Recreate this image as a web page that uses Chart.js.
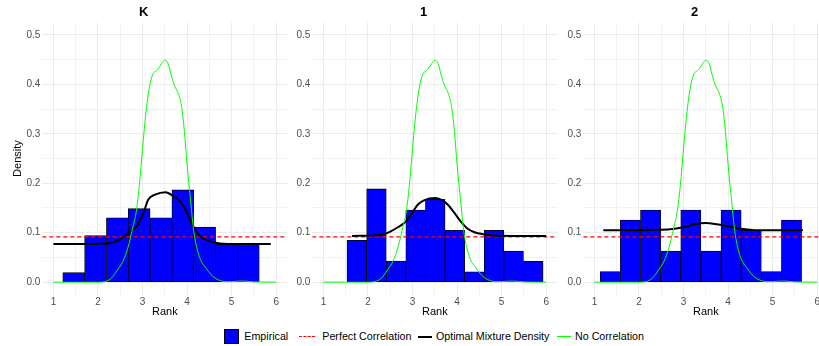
<!DOCTYPE html>
<html>
<head>
<meta charset="utf-8">
<script src="https://cdn.jsdelivr.net/npm/chart.js@4.4.1/dist/chart.umd.min.js"></script>
<style>
  body { margin: 0; width: 819px; height: 346px; overflow: hidden; background: #fff; position: relative;
         font-family: "Liberation Sans", Arial, sans-serif; }
  .panel { position: absolute; top: 0; height: 325px; }
  #legend { position: absolute; left: 0; top: 328px; width: 819px; height: 17px;
            font-size: 10.7px; color: #000; white-space: nowrap; }
  .key { position: absolute; top: 0; height: 17px; }
  .lab { position: absolute; top: 2px; line-height: 13px; }
  .sq { position: absolute; top: 1px; width: 13px; height: 13px; background: #0000ff; border: 1px solid #000; }
  .ln { position: absolute; top: 8px; }
</style>
</head>
<body>
<div class="panel" style="left:0;width:290px"><canvas id="c0"></canvas></div>
<div class="panel" style="left:290px;width:270px"><canvas id="c1"></canvas></div>
<div class="panel" style="left:561px;width:270px"><canvas id="c2"></canvas></div>
<div id="legend"></div>
<script>
// panels
const panelTitles = ['K', '1', '2'];

// axis ticks
const xTickValues = [1, 1.5, 2, 2.5, 3, 3.5, 4, 4.5, 5, 5.5, 6];
const xTickLabels = ['1', '', '2', '', '3', '', '4', '', '5', '', '6'];
const yTickValues = [0, 0.05, 0.1, 0.15, 0.2, 0.25, 0.3, 0.35, 0.4, 0.45, 0.5];
const yTickLabels = ['0.0', '', '0.1', '', '0.2', '', '0.3', '', '0.4', '', '0.5'];

// histogram bins (edges) and densities
const binEdgesK = [1.21, 1.70, 2.19, 2.68, 3.17, 3.66, 4.15, 4.64, 5.13, 5.62];
const densityK  = [0.0195, 0.094, 0.130, 0.149, 0.130, 0.1865, 0.1115, 0.077, 0.077];
const binEdges1 = [1.53, 1.97, 2.41, 2.85, 3.29, 3.73, 4.17, 4.61, 5.05, 5.49, 5.93];
const density1  = [0.0845, 0.1885, 0.0426, 0.146, 0.1676, 0.105, 0.021, 0.105, 0.063, 0.042];
const binEdges2 = [1.13, 1.582, 2.034, 2.486, 2.938, 3.39, 3.842, 4.294, 4.746, 5.198, 5.65];
const density2  = [0.0216, 0.1257, 0.146, 0.063, 0.146, 0.063, 0.146, 0.105, 0.0216, 0.1257];

// perfect correlation (uniform density)
const perfectCorrelation = 0.0915;

// no correlation density (same in every panel)
const noCorrX = [1.0, 1.5, 2.0, 2.15, 2.3, 2.44, 2.56, 2.67, 2.78, 2.86, 2.93, 3.0, 3.08, 3.16, 3.23, 3.34, 3.43,
                 3.5, 3.58, 3.64, 3.72, 3.81, 3.88, 3.94, 4.0, 4.08, 4.15, 4.24, 4.32, 4.43, 4.54, 4.63, 4.75,
                 4.85, 5.0, 5.15, 5.3, 5.5, 6.0];
const noCorrY = [0, 0, 0, 0.001, 0.008, 0.025, 0.042, 0.069, 0.11, 0.143, 0.197, 0.27, 0.346, 0.397, 0.42, 0.43, 0.442,
                 0.449, 0.441, 0.42, 0.397, 0.38, 0.353, 0.305, 0.238, 0.164, 0.103, 0.062, 0.042, 0.028, 0.015, 0.008, 0.003,
                 0.001, 0.001, 0.002, 0.002, 0.0005, 0];

// optimal mixture density
const mixXK = [1.0, 2.2, 2.5, 2.68, 2.87, 3.02, 3.13, 3.28, 3.52, 3.69, 3.84, 3.96, 4.07, 4.18, 4.29, 4.48, 4.67, 5.04, 5.88];
const mixYK = [0.077, 0.078, 0.087, 0.099, 0.113, 0.14, 0.167, 0.177, 0.182, 0.174, 0.164, 0.147, 0.126, 0.106, 0.093, 0.084, 0.079, 0.077, 0.077];
const mixX1 = [1.64, 2.14, 2.37, 2.52, 2.67, 2.82, 2.97, 3.12, 3.27, 3.5, 3.64, 3.79, 3.94, 4.09, 4.24, 4.39, 4.58, 4.9, 6.0];
const mixY1 = [0.0935, 0.0946, 0.097, 0.103, 0.111, 0.12, 0.137, 0.157, 0.166, 0.170, 0.167, 0.157, 0.14, 0.122, 0.108, 0.101, 0.097, 0.094, 0.0935];
const mixX2 = [1.2, 2.5, 2.8, 3.0, 3.25, 3.5, 3.75, 4.0, 4.3, 4.6, 5.68];
const mixY2 = [0.105, 0.106, 0.108, 0.111, 0.117, 0.1195, 0.117, 0.113, 0.108, 0.105, 0.105];

const xLimits = [0.75, 6.25];
const yLimits = [-0.025, 0.525];

const legendLabels = ['Empirical', 'Perfect Correlation', 'Optimal Mixture Density', 'No Correlation'];

Chart.defaults.font.family = '"Liberation Sans", Arial, sans-serif';
Chart.defaults.color = '#4d4d4d';

function pts(xs, ys) {
    return xs.map((x, i) => ({x: x, y: ys[i]}));
}

function makePanel(id, title, edges, dens, mixX, mixY, showYTitle, yWidth) {
    const bars = dens.map((d, i) => ({x: (edges[i] + edges[i + 1]) / 2, y: d}));
    new Chart(document.getElementById(id), {
        type: 'bar',
        data: {
            datasets: [{
                type: 'line',
                label: legendLabels[3],
                data: pts(noCorrX, noCorrY),
                borderColor: '#00ff00',
                borderWidth: 1,
                pointRadius: 0,
                cubicInterpolationMode: 'monotone',
                order: 0
            }, {
                type: 'line',
                label: legendLabels[2],
                data: pts(mixX, mixY),
                borderColor: '#000000',
                borderWidth: 2,
                pointRadius: 0,
                cubicInterpolationMode: 'monotone',
                order: 1
            }, {
                type: 'line',
                label: legendLabels[1],
                data: pts(xLimits, [perfectCorrelation, perfectCorrelation]),
                borderColor: '#ff0000',
                borderWidth: 1.1,
                borderDash: [4, 3],
                pointRadius: 0,
                order: 2
            }, {
                type: 'bar',
                label: legendLabels[0],
                data: bars,
                backgroundColor: '#0000ff',
                borderColor: '#000000',
                borderWidth: 0.8,
                borderSkipped: false,
                barPercentage: 1,
                categoryPercentage: 1,
                order: 3
            }]
        },
        options: {
            responsive: true,
            maintainAspectRatio: false,
            animation: false,
            layout: {padding: {left: 0, right: 2.7, top: 0, bottom: 0}},
            plugins: {
                legend: {display: false},
                tooltip: {enabled: false},
                title: {
                    display: true,
                    text: title,
                    color: '#000',
                    font: {size: 13, weight: 'bold'},
                    padding: {top: 5, bottom: 2}
                }
            },
            scales: {
                x: {
                    type: 'linear',
                    min: xLimits[0],
                    max: xLimits[1],
                    offset: false,
                    afterBuildTicks: (s) => { s.ticks = xTickValues.map(v => ({value: v})); },
                    afterFit: (s) => { s.height = 30.5; },
                    ticks: {
                        autoSkip: false, maxRotation: 0, padding: 2,
                        font: {size: 10}, color: '#4d4d4d',
                        callback: (v, i) => xTickLabels[i]
                    },
                    grid: {
                        offset: false, drawTicks: false, lineWidth: 1,
                        color: (ctx) => xTickLabels[ctx.index] ? '#ebebeb' : '#f2f2f2'
                    },
                    border: {display: false},
                    title: {display: true, text: 'Rank', color: '#000', font: {size: 11}, padding: {top: 0, bottom: 6.4}}
                },
                y: {
                    min: yLimits[0],
                    max: yLimits[1],
                    afterBuildTicks: (s) => { s.ticks = yTickValues.map(v => ({value: v})); },
                    afterFit: (s) => { s.width = yWidth; },
                    ticks: {
                        autoSkip: false, padding: 2,
                        font: {size: 10}, color: '#4d4d4d',
                        callback: (v, i) => yTickLabels[i]
                    },
                    grid: {
                        drawTicks: false, lineWidth: 1,
                        color: (ctx) => yTickLabels[ctx.index] ? '#ebebeb' : '#f2f2f2'
                    },
                    border: {display: false},
                    title: {display: showYTitle, text: 'Density', color: '#000', font: {size: 11}, padding: {top: 11.5, bottom: 0}}
                }
            }
        }
    });
}

makePanel('c0', panelTitles[0], binEdgesK, densityK, mixXK, mixYK, true, 42.3);
makePanel('c1', panelTitles[1], binEdges1, density1, mixX1, mixY1, false, 22.3);
makePanel('c2', panelTitles[2], binEdges2, density2, mixX2, mixY2, false, 22.3);

// legend: key left, key width, label left (px)
const legendKeyLeft = [224, 299, 417.5, 557];
const legendKeyWidth = [15, 16, 14.5, 14];
const legendTextLeft = [244.3, 322.3, 436, 575];
const keyStyle = [
    '',
    'border-top:1.1px dashed #ff0000',
    'border-top:2px solid #000;top:7.5px',
    'border-top:1px solid #00ff00'
];
const legend = document.getElementById('legend');
legendLabels.forEach((lab, i) => {
    const key = document.createElement('div');
    key.className = 'key';
    key.style.left = legendKeyLeft[i] + 'px';
    key.style.width = legendKeyWidth[i] + 'px';
    if (i === 0) {
        key.innerHTML = '<div class="sq"></div>';
    } else {
        key.innerHTML = '<div class="ln" style="left:0;width:' + legendKeyWidth[i] + 'px;' + keyStyle[i] + '"></div>';
    }
    legend.appendChild(key);
    const span = document.createElement('span');
    span.className = 'lab';
    span.style.left = legendTextLeft[i] + 'px';
    span.textContent = lab;
    legend.appendChild(span);
});
</script>
</body>
</html>
